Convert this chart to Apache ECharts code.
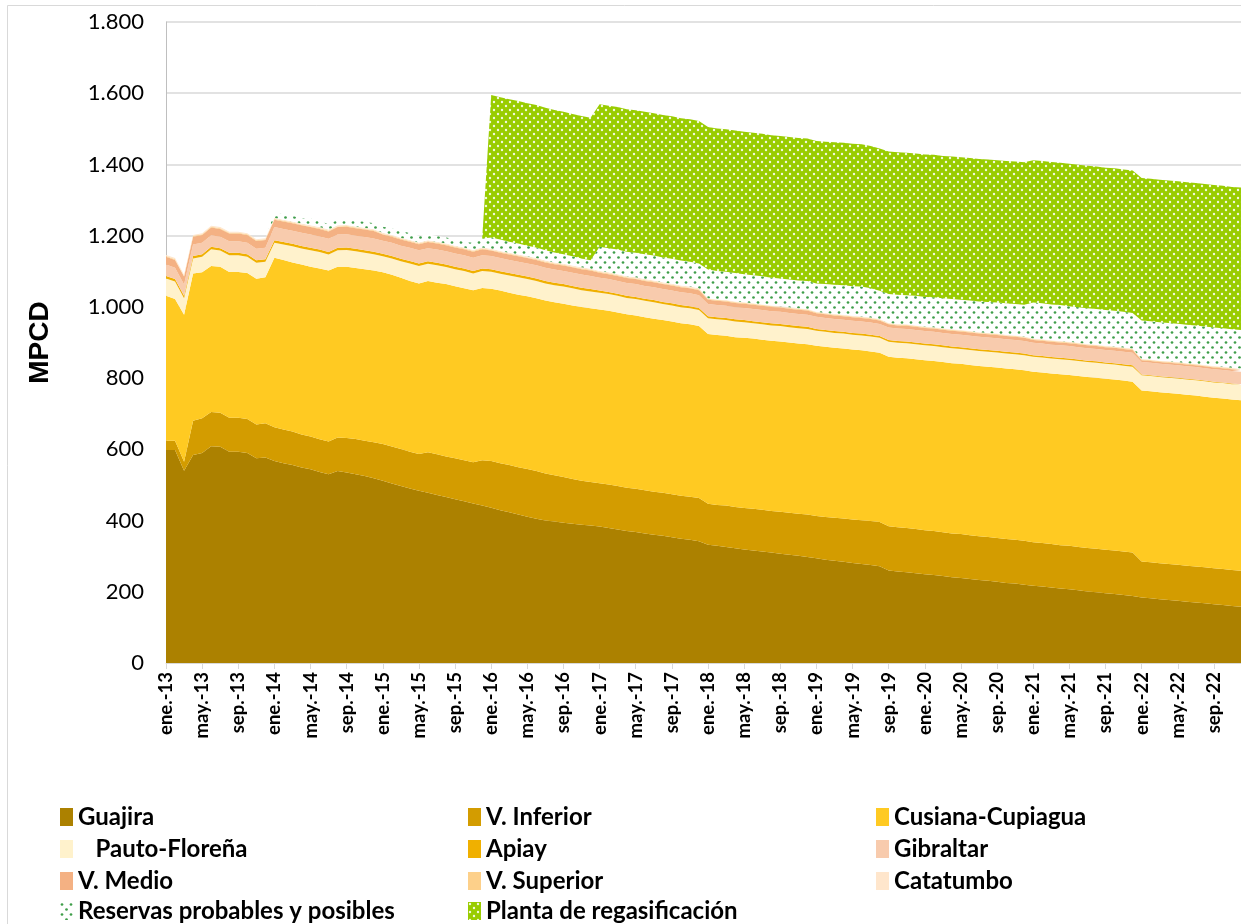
<!DOCTYPE html>
<html><head><meta charset="utf-8">
<script src="https://cdn.jsdelivr.net/npm/echarts/dist/echarts.min.js"></script>
<style>html,body{margin:0;padding:0;background:#fff}#c{width:1241px;height:924px}</style>
</head><body><div id="c"></div>
<script>
// ---- categories / tick labels ----
const monthAbbr = ['ene.','feb.','mar.','abr.','may.','jun.','jul.','ago.','sep.','oct.','nov.','dic.'];
const years = ['13','14','15','16','17','18','19','20','21','22'];
const categories = [];
years.forEach(y => monthAbbr.forEach(m => categories.push(m + '-' + y)));
const yTicks = [0, 200, 400, 600, 800, 1000, 1200, 1400, 1600, 1800];

// ---- series values (MPCD), ene-13 .. dic-22 ----
const guajira = [
 598,598,540,584,590,609,607,593,593,590,575,577,
 567,561,556,549,544,536,530,539,535,530,525,519,
 512,504,497,490,484,478,472,466,460,454,448,442,
 436,429,423,417,411,405,400,397,394,391,388,386,
 383,379,375,371,368,364,360,357,353,349,346,342,
 332,329,326,322,319,316,313,310,307,304,301,298,
 294,290,287,284,281,278,275,272,260,257,255,252,
 249,247,244,241,239,236,233,231,228,225,223,220,
 217,215,212,209,207,204,201,199,196,194,191,188,
 184,182,179,177,175,172,170,168,165,163,160,158];
const vInferior = [
 26,26,25,96,97,96,96,96,96,95,95,96,
 95,95,94,93,92,92,92,94,97,99,99,101,
 103,104,104,103,103,114,114,114,115,115,116,127,
 131,132,133,133,134,134,132,130,128,126,124,122,
 122,122,122,121,121,121,121,121,121,121,121,121,
 115,115,116,116,116,117,117,117,118,118,118,119,
 119,120,121,122,122,123,124,124,124,124,124,124,
 124,124,123,123,123,123,123,123,123,123,123,123,
 122,122,122,122,122,122,122,122,122,122,122,122,
 101,101,101,101,101,101,101,101,101,101,101,101];
const cusiana = [
 407,398,413,414,410,410,410,409,409,410,409,410,
 476,476,475,477,477,480,480,480,481,480,482,482,
 482,482,481,480,479,481,482,484,483,483,483,484,
 484,485,484,484,485,485,486,486,487,487,488,488,
 488,488,487,487,487,486,486,485,485,484,484,483,
 477,477,477,477,478,478,478,478,478,478,478,478,
 478,478,477,477,477,477,476,475,476,476,477,477,
 477,477,478,478,478,478,478,478,479,479,479,479,
 479,479,479,480,480,480,480,480,480,480,480,480,
 480,480,480,480,480,480,480,479,479,479,479,479];
const pauto = [
 49,49,46,42,44,47,45,47,47,46,45,44,
 42,43,45,45,46,46,45,46,47,47,46,46,
 45,46,46,49,49,48,49,48,48,49,47,48,
 48,47,48,49,48,49,48,48,48,48,47,47,
 47,47,47,46,46,46,46,45,45,45,45,45,
 44,44,44,44,44,43,43,43,43,43,43,43,
 42,42,42,42,42,42,42,42,42,42,42,42,
 42,42,42,42,42,42,42,42,42,42,42,42,
 42,42,42,42,42,42,42,42,42,42,42,42,
 43,43,43,43,43,43,43,43,43,43,43,43];
const apiay = [
 7,7,7,7,7,7,7,7,7,7,7,7,
 7,7,7,7,7,7,7,7,7,7,7,7,
 7,7,7,7,7,7,7,7,7,7,7,7,
 7,7,7,7,7,7,7,7,7,7,7,7,
 6,6,6,6,6,6,6,6,6,6,6,6,
 6,6,6,6,6,6,6,6,6,6,6,6,
 5,5,5,5,5,5,5,5,5,5,5,5,
 5,5,5,5,5,5,5,5,5,5,5,5,
 4,4,4,4,4,4,4,4,4,4,4,4,
 2,2,2,2,2,2,2,2,2,2,2,2];
const gibraltar = [
 32,32,32,32,32,32,32,32,32,32,32,32,
 37,37,37,37,37,37,37,37,37,37,37,37,
 37,37,37,37,37,37,37,37,37,37,37,37,
 37,37,37,37,37,37,37,37,37,37,37,37,
 36,36,36,36,36,36,36,36,36,36,36,36,
 34,34,34,34,34,34,34,34,34,34,34,34,
 34,34,34,34,34,34,34,34,35,35,35,35,
 35,35,35,35,35,35,35,35,35,35,35,35,
 35,35,35,35,35,35,35,35,35,35,35,35,
 35,35,35,35,35,35,35,35,35,35,35,35];
const vMedio = [
 22,22,22,22,22,22,22,22,22,22,22,22,
 21,21,21,21,21,21,21,21,21,21,21,21,
 17,17,17,17,17,17,17,17,17,17,17,17,
 15,15,15,15,15,15,15,15,15,15,15,15,
 14,14,14,14,14,14,14,14,14,14,14,14,
 12,12,12,12,12,12,12,12,12,12,12,12,
 10,10,10,10,10,10,10,10,9,9,9,9,
 9,9,9,9,9,9,9,9,9,9,9,9,
 8,8,8,8,8,8,8,8,8,8,8,8,
 5,5,5,5,5,5,5,5,5,5,5,5];
const vSuperior = [
 2,2,2,2,2,2,2,2,2,2,2,2, 2,2,2,2,2,2,2,2,2,2,2,2,
 2,2,2,2,2,2,2,2,2,2,2,2, 2,2,2,2,2,2,2,2,2,2,2,2,
 2,2,2,2,2,2,2,2,2,2,2,2, 2,2,2,2,2,2,2,2,2,2,2,2,
 2,2,2,2,2,2,2,2,2,2,2,2, 2,2,2,2,2,2,2,2,2,2,2,2,
 2,2,2,2,2,2,2,2,2,2,2,2, 2,2,2,2,2,2,2,2,2,2,2,2];
const catatumbo = [
 3,3,3,3,3,3,3,3,3,3,3,3, 3,3,3,3,3,3,3,3,3,3,3,3,
 3,3,3,3,3,3,3,3,3,3,3,3, 3,3,3,3,3,3,3,3,3,3,3,3,
 3,3,3,3,3,3,3,3,3,3,3,3, 2,2,2,2,2,2,2,2,2,2,2,2,
 2,2,2,2,2,2,2,2,2,2,2,2, 2,2,2,2,2,2,2,2,2,2,2,2,
 2,2,2,2,2,2,2,2,2,2,2,2, 2,2,2,2,2,2,2,2,2,2,2,2];
const reservas = [
 0,0,0,0,0,0,0,0,0,0,0,0,
 14,15,16,14,19,17,15,16,15,16,17,17,
 17,18,20,19,19,17,16,17,18,15,20,25,
 32,32,31,31,30,30,29,28,27,26,25,24,
 68,68,69,69,69,70,70,70,70,70,70,70,
 81,80,80,80,79,79,79,78,78,78,78,79,
 80,81,82,83,83,84,82,79,81,82,82,83,
 83,84,84,85,85,86,86,87,87,88,88,89,
 101,101,101,101,100,100,100,100,100,100,100,100,
 108,108,108,108,108,108,108,108,108,108,108,108];
const planta = [
 0,0,0,0,0,0,0,0,0,0,0,0, 0,0,0,0,0,0,0,0,0,0,0,0,
 0,0,0,0,0,0,0,0,0,0,0,0,
 400,400,400,400,400,400,400,400,400,400,400,400,
 400,400,400,400,400,400,400,400,400,400,400,400,
 400,400,400,400,400,400,400,400,400,400,400,400,
 400,400,400,400,400,400,400,400,400,400,400,400,
 400,400,400,400,400,400,400,400,400,400,400,400,
 400,400,400,400,400,400,400,400,400,400,400,400,
 400,400,400,400,400,400,400,400,400,400,400,400];

const seriesNames = ['Guajira','V. Inferior','Cusiana-Cupiagua','Pauto-Floreña','Apiay','Gibraltar',
  'V. Medio','V. Superior','Catatumbo','Reservas probables y posibles','Planta de regasificación'];
const seriesData = [guajira, vInferior, cusiana, pauto, apiay, gibraltar, vMedio, vSuperior, catatumbo, reservas, planta];

function makePattern(bg, dot, w, h, pts, r) {
  const c = document.createElement('canvas'); c.width = w; c.height = h;
  const ctx = c.getContext('2d');
  ctx.fillStyle = bg; ctx.fillRect(0, 0, w, h);
  ctx.fillStyle = dot;
  pts.forEach(p => { ctx.beginPath(); ctx.arc(p[0], p[1], r, 0, Math.PI * 2); ctx.fill(); });
  return c;
}
const reservasPattern = { image: makePattern('#ffffff', '#3f9e4a', 9, 10, [[2, 2.5], [6.5, 7.5]], 1.35), repeat: 'repeat' };
const plantaPattern = { image: makePattern('#99cc00', '#f2f9e0', 8, 8, [[2, 2], [6, 6]], 1.2), repeat: 'repeat' };

const colors = ['#ac8100', '#d39c00', '#ffca22', '#fff2cc', '#f0b000', '#f8cbad',
  '#f4b183', '#fdd08a', '#ffe6cc', reservasPattern, plantaPattern];

const series = seriesNames.map((n, i) => ({
  name: n, type: 'line', stack: 'total', data: seriesData[i],
  symbol: 'none', showSymbol: false, smooth: false,
  lineStyle: { width: 0, opacity: 0 },
  itemStyle: { color: colors[i] },
  areaStyle: { color: colors[i], opacity: 1 },
  emphasis: { disabled: true }
}));

// legend layout: [name, left, top, leading text]
const legendPos = [
  ['Guajira', 60, 805, ''], ['V. Inferior', 468, 805, ''], ['Cusiana-Cupiagua', 876, 805, ''],
  ['Pauto-Floreña', 60, 837, '   '], ['Apiay', 468, 837, ''], ['Gibraltar', 876, 837, ''],
  ['V. Medio', 60, 869, ''], ['V. Superior', 468, 869, ''], ['Catatumbo', 876, 869, ''],
  ['Reservas probables y posibles', 60, 899, ''], ['Planta de regasificación', 468, 899, '']
];
const legends = legendPos.map(l => ({
  data: [l[0]], left: l[1], top: l[2], icon: 'rect', itemWidth: 13, itemHeight: 18,
  itemGap: 0, itemTextGap: 6, padding: 0, selectedMode: false,
  formatter: name => l[3] + name,
  textStyle: { fontFamily: 'Lato', fontWeight: 'bold', fontSize: 24, color: '#000' }
}));

const chart = echarts.init(document.getElementById('c'), null, { renderer: 'canvas' });
chart.setOption({
  animation: false,
  backgroundColor: '#ffffff',
  graphic: [{ type: 'rect', shape: { x: 7.5, y: 5.5, width: 1260, height: 940 },
    style: { fill: 'none', stroke: '#d9d9d9', lineWidth: 1 }, silent: true, z: -1 }],
  grid: { left: 166, right: 0, top: 22, bottom: 261, containLabel: false },
  legend: legends,
  xAxis: {
    type: 'category', data: categories, boundaryGap: false,
    axisLine: { show: true, lineStyle: { color: '#d9d9d9', width: 1 } },
    axisTick: { show: true, interval: 3, length: 6, lineStyle: { color: '#d9d9d9' } },
    axisLabel: { interval: 3, rotate: 90, margin: 9, fontFamily: 'Lato', fontWeight: 'bold', fontSize: 18.5, color: '#000' },
    splitLine: { show: false }
  },
  yAxis: {
    type: 'value', min: yTicks[0], max: yTicks[yTicks.length - 1], interval: 200,
    name: 'MPCD', nameLocation: 'middle', nameGap: 112, nameRotate: 90,
    nameTextStyle: { fontFamily: 'Liberation Sans', fontWeight: 'bold', fontSize: 28, color: '#000' },
    axisLine: { show: true, lineStyle: { color: '#bfbfbf' } },
    axisTick: { show: false },
    axisLabel: { margin: 22, fontFamily: 'Lato', fontSize: 22, color: '#000',
      formatter: v => v >= 1000 ? Math.floor(v / 1000) + '.' + String(v % 1000).padStart(3, '0') : String(v) },
    splitLine: { show: true, lineStyle: { color: '#d9d9d9', width: 1.5 } }
  },
  series: series
});
</script></body></html>
